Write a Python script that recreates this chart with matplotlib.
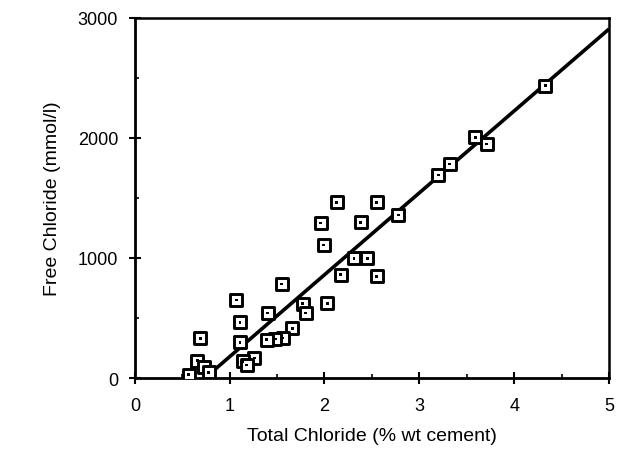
import numpy as np
import matplotlib.pyplot as plt
from matplotlib.ticker import MultipleLocator

plt.rcParams['font.family'] = ['Liberation Sans', 'DejaVu Sans']

# Measured points: total chloride (% wt cement) vs free chloride (mmol/l)
total_cl = [4.33, 3.59, 3.71, 3.32, 3.20, 2.78, 2.13, 2.55, 1.96, 2.38,
            1.99, 2.31, 2.45, 2.17, 2.55, 1.55, 1.07, 1.77, 2.03, 1.80,
            1.40, 1.11, 1.66, 1.56, 1.48, 1.39, 1.11, 0.69, 1.26, 1.14,
            1.18, 0.66, 0.73, 0.78, 0.57]
free_cl = [2436, 2006, 1950, 1783, 1692, 1358, 1464, 1464, 1292, 1298,
           1108, 998, 998, 861, 848, 783, 650, 619, 622, 542,
           542, 464, 414, 333, 325, 319, 297, 331, 167, 139,
           108, 144, 89, 47, 27]

# Fitted line end points
fit_x = [0.74, 5.0]
fit_y = [0, 2908]

fig = plt.figure(figsize=(6.42, 4.52), dpi=100)
ax = fig.add_axes([0.210, 0.1615, 0.7386, 0.7965])

ax.plot(fit_x, fit_y, color='black', lw=2.6, solid_capstyle='butt', zorder=2)
ax.scatter(total_cl, free_cl, marker='s', s=68, facecolor='white',
           edgecolor='black', linewidths=2.1, zorder=3)
ax.scatter(total_cl, free_cl, marker='s', s=4, facecolor='black',
           edgecolor='none', zorder=4)

ax.set_xlim(0, 5)
ax.set_ylim(0, 3000)
ax.xaxis.set_major_locator(MultipleLocator(1))
ax.xaxis.set_minor_locator(MultipleLocator(0.5))
ax.yaxis.set_major_locator(MultipleLocator(1000))
ax.yaxis.set_minor_locator(MultipleLocator(500))
ax.tick_params(which='major', direction='inout', length=8, width=1.5,
               labelsize=13)
ax.tick_params(axis='x', which='major', pad=10)
ax.tick_params(axis='y', which='major', pad=8)
ax.tick_params(which='minor', direction='in', length=3, width=1.2)

for side in ['left', 'bottom']:
    ax.spines[side].set_linewidth(2.0)
for side in ['top', 'right']:
    ax.spines[side].set_linewidth(1.8)

ax.set_xlabel('Total Chloride (% wt cement)', fontsize=14, labelpad=9)
ax.set_ylabel('Free Chloride (mmol/l)', fontsize=14, labelpad=12)

fig.savefig('out.png', dpi=100)
